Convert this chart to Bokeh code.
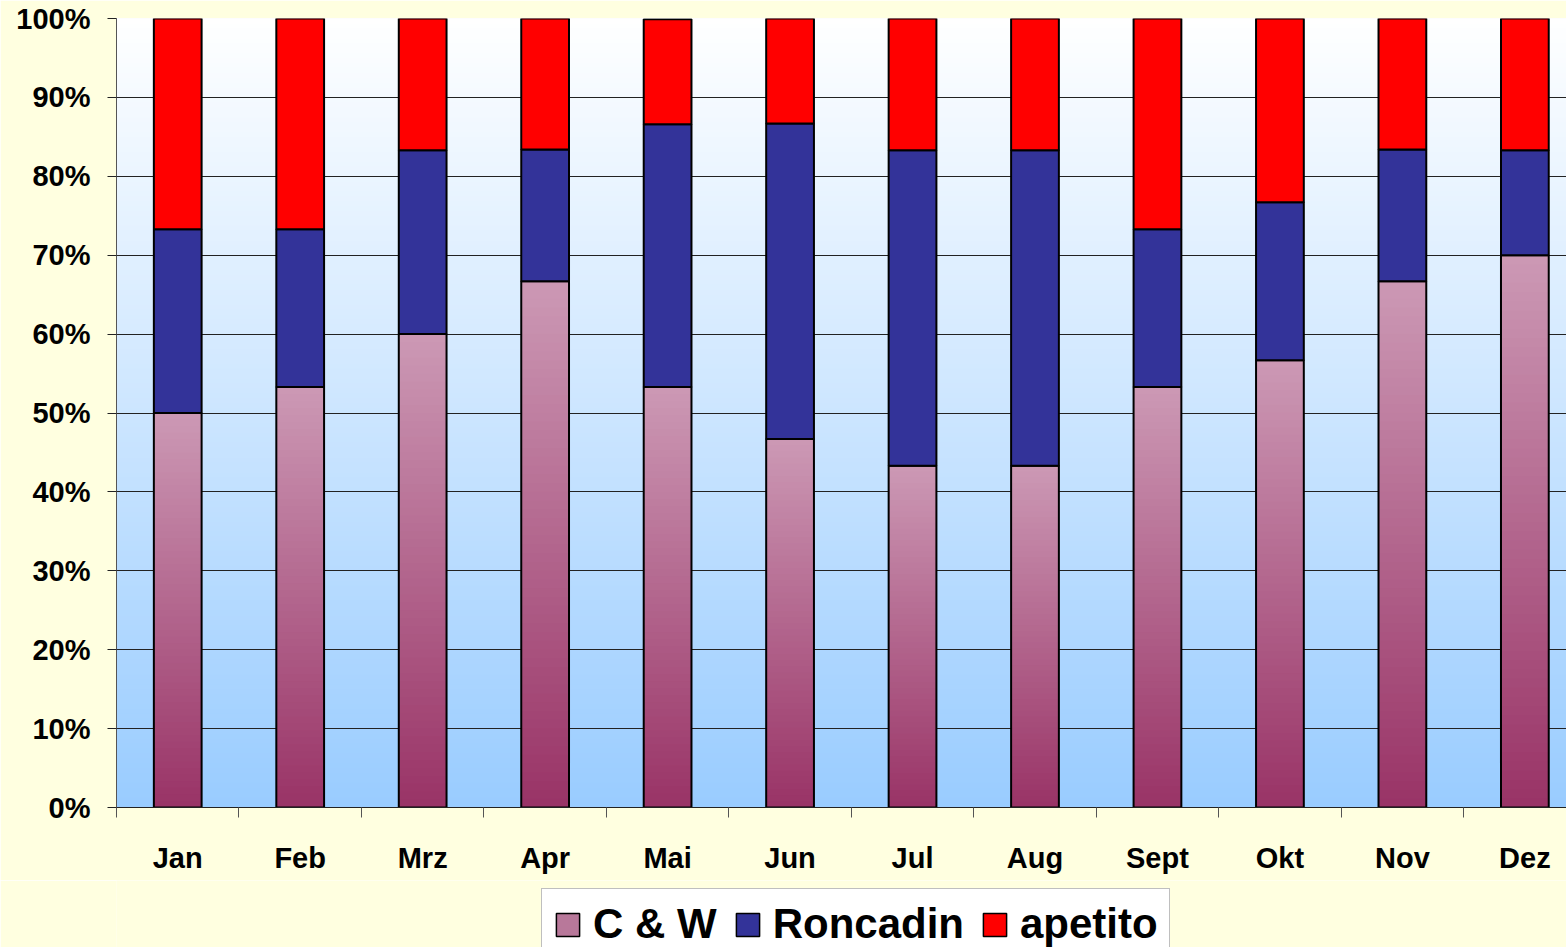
import numpy as np
from bokeh.plotting import figure
from bokeh.layouts import column
from bokeh.models import (Range1d, FixedTicker, PrintfTickFormatter, Legend,
                          LegendItem, ColumnDataSource)
from bokeh.embed import file_html
from bokeh.resources import INLINE

# ---------------- data ----------------
months = ["Jan", "Feb", "Mrz", "Apr", "Mai", "Jun", "Jul", "Aug", "Sept", "Okt", "Nov", "Dez"]
cw = [50.0, 53.3, 60.0, 66.7, 53.3, 46.7, 43.3, 43.3, 53.3, 56.7, 66.7, 70.0]
roncadin = [23.3, 20.0, 23.3, 16.7, 33.3, 40.0, 40.0, 40.0, 20.0, 20.0, 16.7, 13.3]
apetito = [26.7, 26.7, 16.7, 16.7, 13.3, 13.3, 16.7, 16.7, 26.7, 23.3, 16.7, 16.7]
series_names = ["C & W", "Roncadin", "apetito"]
y_ticks = list(range(0, 101, 10))

# ---------------- style ----------------
FONT = "Liberation Sans"
PAGE_BG = "#FFFFE0"
BG_BOTTOM, BG_TOP = "#99CCFF", "#FFFFFF"
CW_BOTTOM, CW_TOP = "#993366", "#CC99B5"
CW_LEGEND = "#B8789A"
RON_COLOR = "#333399"
APE_COLOR = "#FF0000"
BAR_W = 0.39
X_END = 11.84


def hex2rgb(h):
    h = h.lstrip("#")
    return np.array([int(h[i:i + 2], 16) for i in (0, 2, 4)], dtype=float)


def lerp(c1, c2, t):
    a, b = hex2rgb(c1), hex2rgb(c2)
    c = a + (b - a) * t
    return "#%02x%02x%02x" % tuple(int(round(v)) for v in c)


x = np.arange(len(months)) + 0.5
cw_arr = np.array(cw)
ron_top = cw_arr + np.array(roncadin)
ape_top = ron_top + np.array(apetito)

p = figure(width=1566, height=880, output_backend="svg", toolbar_location=None,
           x_range=Range1d(0, X_END), y_range=Range1d(0, 100),
           min_border_left=116, min_border_right=0, min_border_top=18,
           min_border_bottom=73)
p.border_fill_color = PAGE_BG
p.background_fill_color = PAGE_BG
p.outline_line_color = None

# gradient background of plot area
NB = 160
bb = np.linspace(0, 100, NB, endpoint=False)
bg_cols = [lerp(BG_BOTTOM, BG_TOP, (b + 50.0 / NB) / 100.0) for b in bb]
p.quad(left=0, right=X_END, bottom=bb, top=100, fill_color=bg_cols,
       line_color=None, level="image")

# C & W gradient slices + outline
src_cw = ColumnDataSource(dict(left=x - BAR_W / 2, right=x + BAR_W / 2,
                               bottom=np.zeros(len(x)), top=cw_arr))
M = 60
L, R, B, T, C = [], [], [], [], []
for i in range(len(x)):
    for k in range(M):
        L.append(x[i] - BAR_W / 2)
        R.append(x[i] + BAR_W / 2)
        B.append(cw_arr[i] * k / M)
        T.append(cw_arr[i])
        C.append(lerp(CW_BOTTOM, CW_TOP, (k + 0.5) / M))
p.quad(left=L, right=R, bottom=B, top=T, fill_color=C, line_color=None)
p.quad(left="left", right="right", bottom="bottom", top="top", source=src_cw,
       fill_color=None, line_color="black", line_width=2)

p.vbar(x=x, width=BAR_W, bottom=cw_arr, top=ron_top,
       fill_color=RON_COLOR, line_color="black", line_width=2)
p.vbar(x=x, width=BAR_W, bottom=ron_top, top=ape_top,
       fill_color=APE_COLOR, line_color="black", line_width=2)

# grid
p.xgrid.visible = False
p.ygrid.ticker = FixedTicker(ticks=y_ticks)
p.ygrid.grid_line_color = "#222222"
p.ygrid.grid_line_width = 1

# y axis
p.yaxis.ticker = FixedTicker(ticks=y_ticks)
p.yaxis.formatter = PrintfTickFormatter(format="%d%%")
p.yaxis.major_label_text_font = FONT
p.yaxis.major_label_text_font_style = "bold"
p.yaxis.major_label_text_font_size = "29px"
p.yaxis.major_label_text_color = "black"
p.yaxis.major_tick_out = 9
p.yaxis.major_tick_in = 0
p.yaxis.minor_tick_line_color = None
p.yaxis.major_label_standoff = 17
p.yaxis.axis_line_color = "#555555"
p.yaxis.major_tick_line_color = "#222222"

# x axis
p.xaxis.ticker = FixedTicker(ticks=list(x), minor_ticks=list(range(len(months))))
p.xaxis.major_label_overrides = {float(xi): m for xi, m in zip(x, months)}
p.xaxis.major_label_text_font = FONT
p.xaxis.major_label_text_font_style = "bold"
p.xaxis.major_label_text_font_size = "29px"
p.xaxis.major_label_text_color = "black"
p.xaxis.major_tick_out = 0
p.xaxis.major_tick_in = 0
p.xaxis.major_tick_line_color = None
p.xaxis.minor_tick_out = 10
p.xaxis.minor_tick_in = 0
p.xaxis.minor_tick_line_color = "#555555"
p.xaxis.major_label_standoff = 24
p.xaxis.axis_line_color = "#222222"

# ---------------- legend strip ----------------
q = figure(width=1566, height=67, output_backend="svg", toolbar_location=None,
           x_range=Range1d(0, 1), y_range=Range1d(0, 1),
           min_border_left=0, min_border_right=0, min_border_top=0,
           min_border_bottom=0)
q.axis.visible = False
q.grid.visible = False
q.border_fill_color = PAGE_BG
q.background_fill_color = PAGE_BG
q.outline_line_color = None
leg_colors = [CW_LEGEND, RON_COLOR, APE_COLOR]
rs = [q.quad(left=[np.nan], right=[np.nan], bottom=[np.nan], top=[np.nan],
             fill_color=c, line_color="black", line_width=1.5) for c in leg_colors]

legend = Legend(items=[LegendItem(label=n, renderers=[r]) for n, r in zip(series_names, rs)],
                orientation="horizontal", location=(425, -13))
legend.label_text_font = FONT
legend.label_text_font_style = "bold"
legend.label_text_font_size = "42px"
legend.label_text_color = "black"
legend.glyph_width = 29
legend.glyph_height = 29
legend.label_standoff = 11
legend.spacing = 16
legend.padding = 11
legend.margin = 0
legend.border_line_color = "#808080"
legend.border_line_width = 1
legend.background_fill_color = "white"
legend.background_fill_alpha = 1
q.add_layout(legend, "center")

layout = column(p, q, spacing=0)
open("out.html", "w").write(file_html(layout, INLINE))
